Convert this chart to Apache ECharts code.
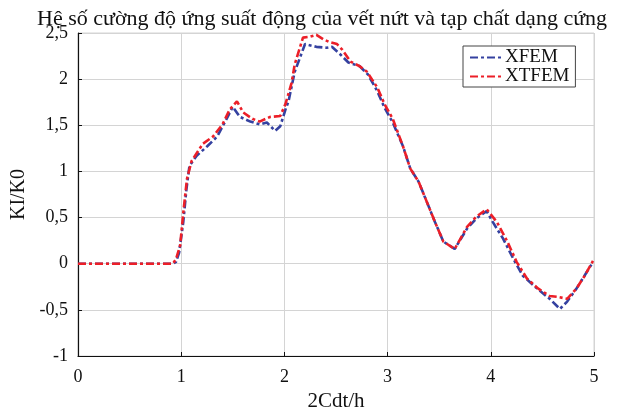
<!DOCTYPE html>
<html>
<head>
<meta charset="utf-8">
<script src="https://cdn.jsdelivr.net/npm/echarts@6/dist/echarts.min.js"></script>
<style>html,body{margin:0;padding:0;background:#fff;}#c{width:639px;height:408px;}</style>
</head>
<body>
<div id="c"></div>
<script>
const titleText = 'Hệ số cường độ ứng suất động của vết nứt và tạp chất dạng cứng';
const xAxisName = '2Cdt/h';
const yAxisName = 'KI/K0';
const seriesNames = ['XFEM', 'XTFEM'];

const xfemX = [0, 0.5, 0.92, 0.95, 0.98, 1.02, 1.05, 1.08, 1.15, 1.25, 1.35, 1.44, 1.50, 1.57, 1.67, 1.76, 1.83, 1.91, 1.96, 2.01, 2.04, 2.10, 2.20, 2.31, 2.41, 2.46, 2.54, 2.62, 2.73, 2.81, 2.90, 2.97, 3.05, 3.15, 3.22, 3.30, 3.38, 3.46, 3.54, 3.65, 3.77, 3.86, 3.96, 4.02, 4.12, 4.22, 4.31, 4.45, 4.57, 4.67, 4.74, 4.83, 4.93, 4.98];
const xfemY = [0, 0, 0, 0.02, 0.12, 0.45, 0.80, 1.06, 1.17, 1.27, 1.38, 1.57, 1.70, 1.59, 1.54, 1.51, 1.53, 1.44, 1.49, 1.67, 1.76, 2.08, 2.38, 2.35, 2.34, 2.35, 2.27, 2.18, 2.14, 2.05, 1.87, 1.69, 1.53, 1.27, 1.03, 0.89, 0.67, 0.45, 0.24, 0.16, 0.38, 0.49, 0.57, 0.45, 0.27, 0.05, -0.13, -0.27, -0.38, -0.49, -0.41, -0.27, -0.09, 0];

const xtfemX = [0, 0.5, 0.92, 0.95, 0.99, 1.02, 1.056, 1.10, 1.21, 1.31, 1.40, 1.47, 1.54, 1.60, 1.69, 1.76, 1.86, 1.96, 2.01, 2.07, 2.10, 2.18, 2.25, 2.31, 2.38, 2.44, 2.51, 2.56, 2.64, 2.73, 2.80, 2.90, 2.97, 3.05, 3.15, 3.22, 3.30, 3.38, 3.46, 3.54, 3.65, 3.77, 3.86, 3.96, 4.06, 4.16, 4.25, 4.35, 4.46, 4.57, 4.65, 4.74, 4.83, 4.91, 4.99];
const xtfemY = [0, 0, 0, 0.05, 0.20, 0.55, 0.92, 1.11, 1.30, 1.38, 1.51, 1.67, 1.76, 1.64, 1.57, 1.54, 1.59, 1.60, 1.73, 1.96, 2.16, 2.45, 2.46, 2.48, 2.43, 2.40, 2.38, 2.32, 2.19, 2.14, 2.08, 1.91, 1.73, 1.57, 1.27, 1.03, 0.89, 0.67, 0.45, 0.24, 0.16, 0.40, 0.51, 0.59, 0.45, 0.24, 0.02, -0.16, -0.27, -0.35, -0.36, -0.38, -0.27, -0.13, 0.03];

const xTicks = [0, 1, 2, 3, 4, 5];
const yTicks = [-1, -0.5, 0, 0.5, 1, 1.5, 2, 2.5];

const pair = (xs, ys) => xs.map((x, i) => [x, ys[i]]);
const serif = '"Liberation Serif", "DejaVu Serif", serif';
const dash = [8, 3, 3, 3];

const chart = echarts.init(document.getElementById('c'), null, {renderer: 'canvas'});
chart.setOption({
  backgroundColor: '#fff',
  animation: false,
  title: {
    text: titleText, left: 32, top: 3,
    textStyle: {fontFamily: serif, fontSize: 22, fontWeight: 'normal', color: '#111'}
  },
  legend: {
    data: seriesNames, orient: 'vertical', left: 463, top: 46,
    backgroundColor: '#fff', borderColor: '#444', borderWidth: 1,
    padding: [2, 6, 1, 6], itemGap: 0, itemWidth: 34, itemHeight: 20,
    itemStyle: {opacity: 0},
    textStyle: {fontFamily: serif, fontSize: 19, color: '#111', padding: [0, 0, 0, -4]}
  },
  grid: {left: 78, right: 45, top: 33, bottom: 52, show: true, borderColor: '#d4d4d4', borderWidth: 1,
    containLabel: false, outerBoundsMode: 'none'},
  xAxis: {
    type: 'value', min: xTicks[0], max: xTicks[xTicks.length - 1], interval: 1,
    name: xAxisName, nameLocation: 'middle', nameGap: 29,
    nameTextStyle: {fontFamily: serif, fontSize: 21, color: '#111'},
    axisLine: {show: true, onZero: false, lineStyle: {color: '#111', width: 1.2}},
    axisTick: {show: true, inside: true, length: 4, lineStyle: {color: '#111'}},
    axisLabel: {fontFamily: serif, fontSize: 18, color: '#111', margin: 12},
    splitLine: {show: true, lineStyle: {color: '#d4d4d4', width: 1}}
  },
  yAxis: {
    type: 'value', min: yTicks[0], max: yTicks[yTicks.length - 1], interval: 0.5,
    name: yAxisName, nameLocation: 'middle', nameGap: 44, nameRotate: 90,
    nameTextStyle: {fontFamily: serif, fontSize: 20, color: '#111'},
    axisLine: {show: true, onZero: false, lineStyle: {color: '#111', width: 1.2}},
    axisTick: {show: true, inside: true, length: 4, lineStyle: {color: '#111'}},
    axisLabel: {fontFamily: serif, fontSize: 18, color: '#111', margin: 10,
      formatter: v => String(v).replace('.', ',')},
    splitLine: {show: true, lineStyle: {color: '#d4d4d4', width: 1}}
  },
  series: [
    {name: seriesNames[0], type: 'line', data: pair(xfemX, xfemY), symbol: 'none',
      color: '#3441a0', lineStyle: {color: '#3441a0', width: 2.6, type: dash}},
    {name: seriesNames[1], type: 'line', data: pair(xtfemX, xtfemY), symbol: 'none',
      color: '#ec1f28', lineStyle: {color: '#ec1f28', width: 2.6, type: dash}}
  ]
});
</script>
</body>
</html>
